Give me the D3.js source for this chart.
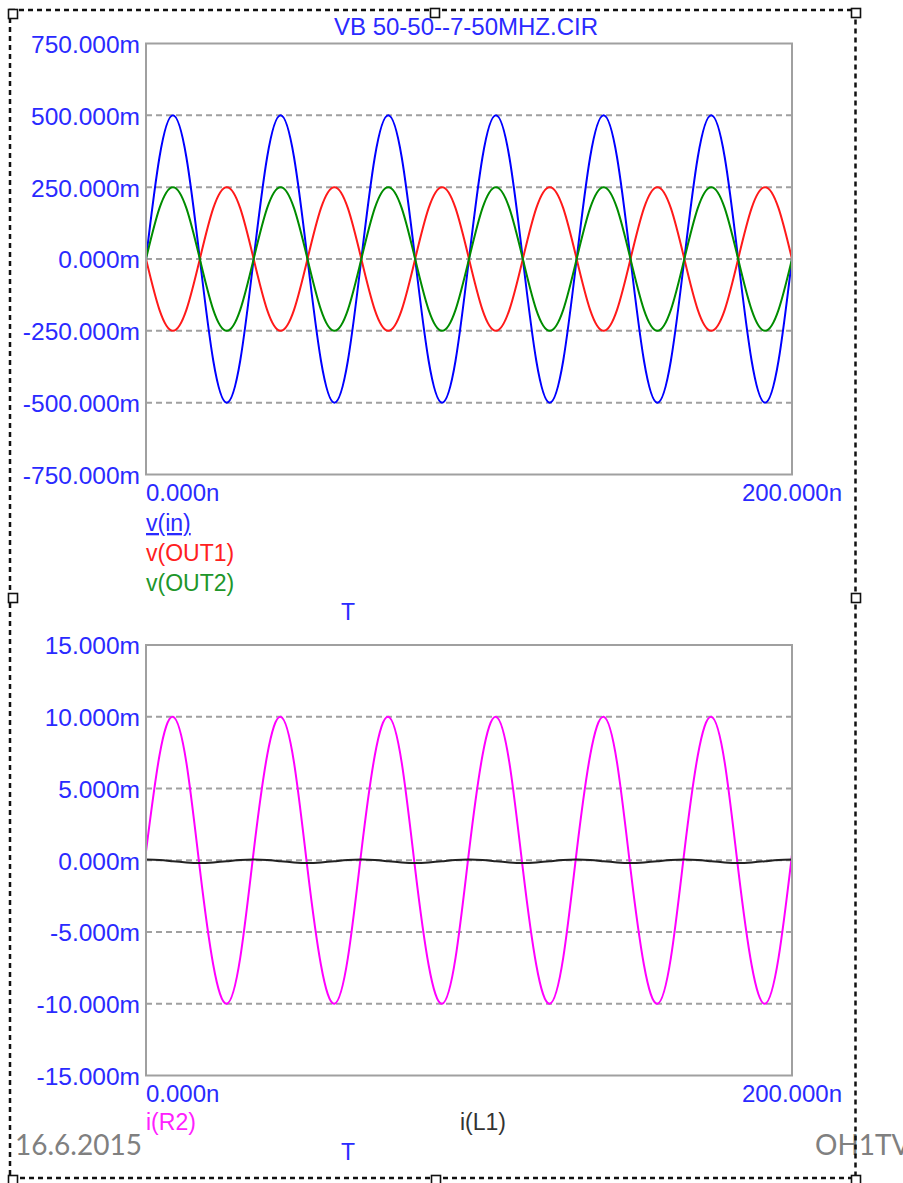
<!DOCTYPE html>
<html>
<head>
<meta charset="utf-8">
<script src="https://cdn.jsdelivr.net/npm/d3@7"></script>
<style>
  body { margin: 0; background: #fff; }
  svg { display: block; }
  text { font-family: "Liberation Sans", Arial, sans-serif; }
</style>
</head>
<body>
<div id="chart"></div>
<script>
// sample times (ns), 1/8 of a 30 MHz period apart
const tNs = [0, 4.17, 8.33, 12.5, 16.67, 20.83, 25, 29.17,
  33.33, 37.5, 41.67, 45.83, 50, 54.17, 58.33, 62.5,
  66.67, 70.83, 75, 79.17, 83.33, 87.5, 91.67, 95.83,
  100, 104.17, 108.33, 112.5, 116.67, 120.83, 125, 129.17,
  133.33, 137.5, 141.67, 145.83, 150, 154.17, 158.33, 162.5,
  166.67, 170.83, 175, 179.17, 183.33, 187.5, 191.67, 195.83, 200];

// top panel, mV
const vIn = [0, 354, 500, 354, 0, -354, -500, -354,
  0, 354, 500, 354, 0, -354, -500, -354,
  0, 354, 500, 354, 0, -354, -500, -354,
  0, 354, 500, 354, 0, -354, -500, -354,
  0, 354, 500, 354, 0, -354, -500, -354,
  0, 354, 500, 354, 0, -354, -500, -354, 0];
const vOut1 = [0, -177, -250, -177, 0, 177, 250, 177,
  0, -177, -250, -177, 0, 177, 250, 177,
  0, -177, -250, -177, 0, 177, 250, 177,
  0, -177, -250, -177, 0, 177, 250, 177,
  0, -177, -250, -177, 0, 177, 250, 177,
  0, -177, -250, -177, 0, 177, 250, 177, 0];
const vOut2 = [0, 177, 250, 177, 0, -177, -250, -177,
  0, 177, 250, 177, 0, -177, -250, -177,
  0, 177, 250, 177, 0, -177, -250, -177,
  0, 177, 250, 177, 0, -177, -250, -177,
  0, 177, 250, 177, 0, -177, -250, -177,
  0, 177, 250, 177, 0, -177, -250, -177, 0];

// bottom panel, mA
const iR2 = [0.6, 7.3, 10, 6.8, -0.6, -7.3, -10, -6.8,
  0.6, 7.3, 10, 6.8, -0.6, -7.3, -10, -6.8,
  0.6, 7.3, 10, 6.8, -0.6, -7.3, -10, -6.8,
  0.6, 7.3, 10, 6.8, -0.6, -7.3, -10, -6.8,
  0.6, 7.3, 10, 6.8, -0.6, -7.3, -10, -6.8,
  0.6, 7.3, 10, 6.8, -0.6, -7.3, -10, -6.8, 0.4];
const iL1 = [0.05, 0.02, -0.07, -0.15, -0.19, -0.15, -0.07, 0.02,
  0.05, 0.02, -0.07, -0.15, -0.19, -0.15, -0.07, 0.02,
  0.05, 0.02, -0.07, -0.15, -0.19, -0.15, -0.07, 0.02,
  0.05, 0.02, -0.07, -0.15, -0.19, -0.15, -0.07, 0.02,
  0.05, 0.02, -0.07, -0.15, -0.19, -0.15, -0.07, 0.02,
  0.05, 0.02, -0.07, -0.15, -0.19, -0.15, -0.07, 0.02, 0.05];

const topTicks = [-750, -500, -250, 0, 250, 500, 750];
const topTickLabels = ["-750.000m", "-500.000m", "-250.000m", "0.000m", "250.000m", "500.000m", "750.000m"];
const botTicks = [-15, -10, -5, 0, 5, 10, 15];
const botTickLabels = ["-15.000m", "-10.000m", "-5.000m", "0.000m", "5.000m", "10.000m", "15.000m"];
const xTickLabels = ["0.000n", "200.000n"];
const topNames = ["v(in)", "v(OUT1)", "v(OUT2)"];
const botNames = ["i(R2)", "i(L1)"];

const W = 903, H = 1183;
const blue = "#2a2aff";
const plotLeft = 146, plotRight = 792;

const svg = d3.select("#chart").append("svg")
    .attr("width", W)
    .attr("height", H);

const x = d3.scaleLinear().domain([0, 200]).range([plotLeft, plotRight]);

// Panel description: y range, ticks and the series to draw
const panels = [
  {
    top: 43.5, bottom: 474.5, domain: [-750, 750],
    ticks: topTicks, labels: topTickLabels,
    series: [
      {values: vIn, colour: "#0000ff"},
      {values: vOut1, colour: "#ff1a1a"},
      {values: vOut2, colour: "#008c00"}
    ]
  },
  {
    top: 645, bottom: 1075.5, domain: [-15, 15],
    ticks: botTicks, labels: botTickLabels,
    series: [
      {values: iR2, colour: "#ff00ff"},
      {values: iL1, colour: "#222222"}
    ]
  }
];

panels.forEach((p, pi) => {
  const y = d3.scaleLinear().domain(p.domain).range([p.bottom, p.top]);
  const g = svg.append("g");

  // dashed grid on inner ticks
  g.append("g")
    .selectAll("line")
    .data(p.ticks.slice(1, -1))
    .join("line")
      .attr("x1", plotLeft)
      .attr("x2", plotRight)
      .attr("y1", d => y(d))
      .attr("y2", d => y(d))
      .attr("stroke", "#a0a0a0")
      .attr("stroke-width", 2)
      .attr("stroke-dasharray", "6,4");

  // y axis labels
  const axis = d3.axisLeft(y)
    .tickValues(p.ticks)
    .tickFormat((d, i) => p.labels[i])
    .tickSize(0)
    .tickPadding(6);
  const ax = g.append("g")
    .attr("transform", `translate(${plotLeft},1)`)
    .call(axis);
  ax.select(".domain").remove();
  ax.selectAll("text")
    .attr("fill", blue)
    .style("font-size", "24.5px")
    .style("font-family", "'Liberation Sans', Arial, sans-serif");

  // clip so lines stay inside frame
  svg.append("clipPath").attr("id", "clip" + pi)
    .append("rect")
      .attr("x", plotLeft).attr("y", p.top)
      .attr("width", plotRight - plotLeft).attr("height", p.bottom - p.top);

  const line = d3.line()
    .x((d, i) => x(tNs[i]))
    .y(d => y(d))
    .curve(d3.curveNatural);

  g.append("g")
    .attr("clip-path", `url(#clip${pi})`)
    .selectAll("path")
    .data(p.series)
    .join("path")
      .attr("d", d => line(d.values))
      .attr("fill", "none")
      .attr("stroke", d => d.colour)
      .attr("stroke-width", 2);

  // frame
  g.append("rect")
    .attr("x", plotLeft)
    .attr("y", p.top)
    .attr("width", plotRight - plotLeft)
    .attr("height", p.bottom - p.top)
    .attr("fill", "none")
    .attr("stroke", "#a0a0a0")
    .attr("stroke-width", 2);

  // x end labels
  const xBase = p.bottom + 26.5;
  g.append("text")
    .attr("x", plotLeft)
    .attr("y", xBase)
    .attr("fill", blue)
    .style("font-size", "24px")
    .text(xTickLabels[0]);
  g.append("text")
    .attr("x", 842)
    .attr("y", xBase)
    .attr("text-anchor", "end")
    .attr("fill", blue)
    .style("font-size", "24px")
    .text(xTickLabels[1]);
});

// title
svg.append("text")
  .attr("x", 466)
  .attr("y", 35)
  .attr("text-anchor", "middle")
  .attr("fill", blue)
  .style("font-size", "24px")
  .text("VB 50-50--7-50MHZ.CIR");

// legends
const topColours = ["#2a2aff", "#ff2020", "#20962a"];
svg.append("g")
  .selectAll("text")
  .data(topNames)
  .join("text")
    .attr("x", plotLeft)
    .attr("y", (d, i) => 531 + i * 30)
    .attr("fill", (d, i) => topColours[i])
    .style("font-size", "23px")
    .style("text-decoration", (d, i) => i === 0 ? "underline" : "none")
    .text(d => d);

const botColours = ["#ff20ff", "#333333"];
const botX = [plotLeft, 460];
svg.append("g")
  .selectAll("text")
  .data(botNames)
  .join("text")
    .attr("x", (d, i) => botX[i])
    .attr("y", 1130)
    .attr("fill", (d, i) => botColours[i])
    .style("font-size", "23px")
    .text(d => d);

// "T" axis names
[620, 1160].forEach(yy => {
  svg.append("text")
    .attr("x", 348)
    .attr("y", yy)
    .attr("text-anchor", "middle")
    .attr("fill", blue)
    .style("font-size", "23px")
    .text("T");
});

// slide footer (the right one runs past the page edge, as in the source)
svg.append("text")
  .attr("x", 15)
  .attr("y", 1155)
  .attr("fill", "#808080")
  .style("font-family", "Lato, 'Open Sans', sans-serif")
  .style("font-size", "28px")
  .text("16.6.2015");
svg.append("text")
  .attr("x", 815)
  .attr("y", 1155)
  .attr("fill", "#808080")
  .style("font-family", "Lato, 'Open Sans', sans-serif")
  .style("font-size", "28px")
  .text("OH1TV");

// selection frame with handles
svg.append("rect")
  .attr("x", 10)
  .attr("y", 10)
  .attr("width", 845.5)
  .attr("height", 1168)
  .attr("fill", "none")
  .attr("stroke", "#111")
  .attr("stroke-width", 2.5)
  .attr("stroke-dasharray", "5,4");

const handles = [[8, 9], [430, 8], [851, 8], [8, 593], [851, 593], [8, 1175], [431, 1175], [851, 1175]];
svg.append("g")
  .selectAll("rect")
  .data(handles)
  .join("rect")
    .attr("x", d => d[0] + 0.5)
    .attr("y", d => d[1] + 0.5)
    .attr("width", 9)
    .attr("height", 9)
    .attr("fill", "#fff")
    .attr("stroke", "#111")
    .attr("stroke-width", 1.6);
</script>
</body>
</html>
